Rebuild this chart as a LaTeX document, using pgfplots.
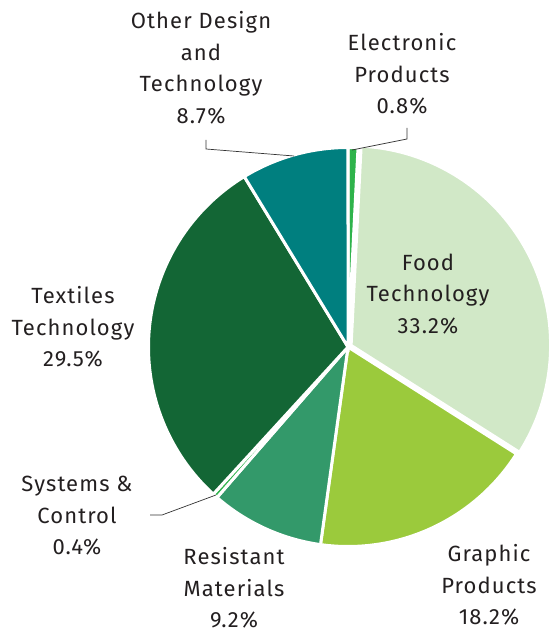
\documentclass[border=0pt]{standalone}
\usepackage{pgfplots}
\pgfplotsset{compat=1.18}
\usepackage{fontspec}
\setmainfont{Fira Sans}[LetterSpace=5]

\definecolor{elec}{HTML}{2EB34B}
\definecolor{food}{HTML}{D1E8C7}
\definecolor{graphic}{HTML}{9BCA3C}
\definecolor{resist}{HTML}{33996A}
\definecolor{systems}{HTML}{2EB34B}
\definecolor{textiles}{HTML}{136635}
\definecolor{otherdt}{HTML}{007F7F}
\definecolor{labeltext}{HTML}{231F20}

% centre of the pie at (348,286), radius 199.5 (white border eats 1.5)
% #1 = cumulative start (%), #2 = share (%), #3 = colour, #4 = explode
\newcommand{\pieslice}[4]{%
  \fill[#3, draw=white, line width=3pt]
    ({348+#4*cos(90-3.6*(#1+#2/2))},{286+#4*sin(90-3.6*(#1+#2/2))})
    -- ({348+#4*cos(90-3.6*(#1+#2/2))+199.5*cos(90-3.6*#1)},
        {286+#4*sin(90-3.6*(#1+#2/2))+199.5*sin(90-3.6*#1)})
    arc[start angle={90-3.6*#1}, end angle={90-3.6*(#1+#2)}, radius=199.5pt]
    -- cycle;
}

\begin{document}
\begin{tikzpicture}[
    lbl/.style={font=\fontsize{22}{31.5}\selectfont, text=labeltext, align=center, inner sep=0pt},
]
\begin{axis}[
    x=1pt, y=1pt,
    xmin=0, xmax=545, ymin=0, ymax=633,
    hide axis,
    clip=false,
    scale only axis,
]
\addplot[draw=none] coordinates {(0,0) (545,633)};

% share of entries, clockwise from the top
\pieslice{0}{0.8}{elec}{0}
\pieslice{34.0}{18.2}{graphic}{0}
\pieslice{52.2}{9.2}{resist}{0}
\pieslice{61.4}{0.4}{systems}{0}
\pieslice{61.8}{29.5}{textiles}{0}
\pieslice{91.3}{8.7}{otherdt}{0}
\pieslice{0.8}{33.2}{food}{3.5}

% leader lines
\draw[black!80, line width=0.7pt] (352,483) -- (407,494) -- (407,505);
\draw[black!80, line width=0.7pt] (294,477) -- (206,484) -- (206,493);
\draw[black!80, line width=0.7pt] (216,138) -- (162,118) -- (150,118);

% labels
\node[lbl] at (201,565) {Other Design\\and\\Technology\\8.7\%};
\node[lbl] at (402,559) {Electronic\\Products\\0.8\%};
\node[lbl] at (428,339) {Food\\Technology\\33.2\%};
\node[lbl] at (73,306) {Textiles\\Technology\\29.5\%};
\node[lbl] at (77,117) {Systems \&\\Control\\0.4\%};
\node[lbl] at (234,45) {Resistant\\Materials\\9.2\%};
\node[lbl] at (489,48) {Graphic\\Products\\18.2\%};
\end{axis}
\end{tikzpicture}
\end{document}
